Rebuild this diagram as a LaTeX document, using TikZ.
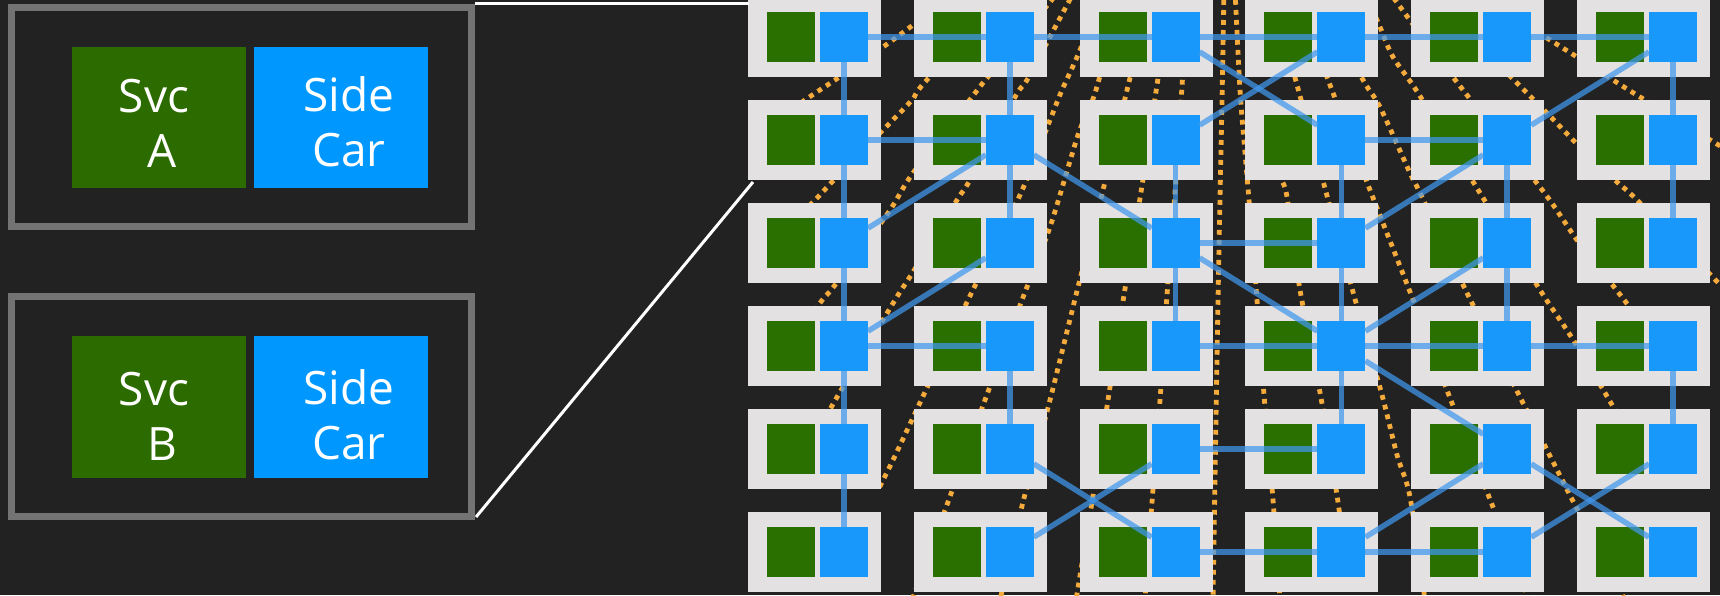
\documentclass[tikz,border=0pt]{standalone}
\usepackage{fontspec}
\setmainfont{Open Sans}
\definecolor{bg}{HTML}{222222}
\definecolor{framegray}{HTML}{737373}
\definecolor{leftgreen}{HTML}{2C6B00}
\definecolor{leftblue}{HTML}{0098FF}
\definecolor{podgray}{HTML}{E3E1E1}
\definecolor{gridgreen}{HTML}{2A7000}
\definecolor{gridblue}{HTML}{1898FA}
\definecolor{meshblue}{HTML}{4098EE}
\definecolor{traceorange}{HTML}{F5AA3C}
\begin{document}
\begin{tikzpicture}[x=1pt,y=-1pt,
  pod/.style={fill=podgray, inner sep=0, outer sep=0, minimum width=133pt, minimum height=80pt},
  svc/.style={fill=gridgreen, inner sep=0, outer sep=0, minimum width=48pt, minimum height=50pt},
  car/.style={fill=gridblue, inner sep=0, outer sep=0, minimum width=48pt, minimum height=50pt},
  mesh/.style={draw=meshblue, line width=5.5pt, opacity=0.72},
  trace/.style={draw=traceorange, line width=4.8pt, dash pattern=on 4.8pt off 5.2pt},
  frame/.style={draw=framegray, line width=7pt, inner sep=0, outer sep=0, minimum width=460pt},
  bigsvc/.style={fill=leftgreen, inner sep=0, outer sep=0, minimum width=174pt, minimum height=141pt},
  bigcar/.style={fill=leftblue, inner sep=0, outer sep=0, minimum width=174pt, minimum height=141pt},
  lbl/.style={text=white, align=center, inner sep=0, font=\fontsize{46pt}{55pt}\selectfont},
  zoomline/.style={draw=white, line width=3pt}]
\useasboundingbox (0,0) rectangle (1720,595);
\fill[bg] (0,0) rectangle (1720,595);

% orange traces (under the pods)
\begin{scope}
\clip (748,0) rectangle (1720,595);
\draw[trace] plot[smooth] coordinates {(1224,-10) (1222,100) (1218,300) (1213,600)};
\draw[trace] plot[smooth] coordinates {(1235,-10) (1240,90) (1245,153) (1249,200) (1257,300) (1264,395) (1273,500) (1280,600)};
\draw[trace] plot[smooth] coordinates {(1188,-10) (1182,86) (1175,192) (1167,295) (1160,400) (1152,502) (1145,600)};
\draw[trace] plot[smooth] coordinates {(1172,-10) (1157,85) (1141,192) (1124,295) (1108,400) (1092,502) (1076,600)};
\draw[trace] plot[smooth] coordinates {(1152,-10) (1128,86) (1103,190) (1078,287) (1050,400) (1023,502) (1000,600)};
\draw[trace] plot[smooth] coordinates {(1122,-10) (1096,90) (1078,135) (1050,227) (1022,300) (985,400) (948,502) (912,600)};
\draw[trace] plot[smooth] coordinates {(1102,-10) (1080,50) (1062,90) (1050,120) (1020,195) (968,300) (925,392) (893,460) (878,490)};
\draw[trace] plot[smooth] coordinates {(1075,-10) (1052,33) (1027,80) (1015,97) (970,180) (957,200) (913,272) (895,300) (840,392) (810,445) (790,480)};
\draw[trace] plot[smooth] coordinates {(1060,-10) (987,78) (972,97) (913,173) (888,213) (835,285) (820,303) (770,370)};
\draw[trace] plot[smooth] coordinates {(1010,-10) (925,82) (912,100) (883,130) (832,182) (815,200) (760,255)};
\draw[trace] plot[smooth] coordinates {(960,-10) (913,25) (883,47) (835,80) (805,100) (752,138)};
\draw[trace] plot[smooth] coordinates {(1265,115) (1280,175) (1287,197) (1300,290) (1321,398) (1338,502) (1350,600)};
\draw[trace] plot[smooth] coordinates {(1271,-10) (1297,85) (1326,192) (1353,292) (1382,395) (1397,455) (1410,497) (1425,600)};
\draw[trace] plot[smooth] coordinates {(1294,-10) (1330,85) (1370,190) (1412,297) (1450,398) (1491,502) (1529,600)};
\draw[trace] plot[smooth] coordinates {(1313,-10) (1363,80) (1380,107) (1410,173) (1421,195) (1467,293) (1521,399) (1548,452) (1575,505) (1625,600)};
\draw[trace] plot[smooth] coordinates {(1364,-10) (1380,27) (1393,57) (1418,93) (1480,193) (1540,290) (1572,338) (1608,398) (1650,470)};
\draw[trace] plot[smooth] coordinates {(1388,-10) (1412,23) (1463,90) (1543,191) (1577,240) (1618,292) (1670,360)};
\draw[trace] plot[smooth] coordinates {(1424,-10) (1517,83) (1547,113) (1580,147) (1617,182) (1640,203) (1740,305)};
\draw[trace] plot[smooth] coordinates {(1470,-10) (1550,40) (1577,57) (1613,80) (1640,97) (1730,152)};
\end{scope}

% pods
\foreach \c in {1,...,6}{
  \foreach \r in {1,...,6}{
    \pgfmathsetmacro\L{748+165.8*(\c-1)}
    \pgfmathsetmacro\T{-3+103*(\r-1)}
    \node[pod] (p-\c-\r) at (\L+66.5,\T+40) {};
    \node[svc] (g-\c-\r) at (\L+43,\T+40) {};
    \node[car] (s-\c-\r) at (\L+96,\T+40) {};
  }
}

% mesh connections between sidecars
\foreach \a/\b in {1-1/2-1, 2-1/3-1, 3-1/4-1, 4-1/5-1, 5-1/6-1,
  1-1/1-2, 1-2/1-3, 1-3/1-4, 1-4/1-5, 1-5/1-6,
  1-2/2-2, 2-1/2-2, 2-2/2-3, 2-2/1-3,
  2-2/3-3, 3-3/4-4, 4-4/5-5, 5-5/6-6,
  3-1/4-2, 3-2/4-1, 3-2/3-3, 3-3/3-4, 3-3/4-3,
  4-2/5-2, 4-2/4-3, 4-3/5-2, 5-2/6-1, 5-2/5-3,
  6-1/6-2, 6-2/6-3, 5-3/5-4, 4-4/5-3, 4-3/4-4,
  1-4/2-3, 1-4/2-4, 2-4/2-5,
  3-4/4-4, 4-4/5-4, 5-4/6-4, 4-4/4-5, 6-4/6-5,
  2-5/3-6, 2-6/3-5, 3-5/4-5,
  3-6/4-6, 4-6/5-6, 4-6/5-5, 5-6/6-5}
  {\draw[mesh] (s-\a) -- (s-\b);}

% detail boxes on the left
\node[frame, minimum height=219pt] (fA) at (241.5,117) {};
\node[frame, minimum height=220pt] (fB) at (241.5,406.5) {};
\node[bigsvc] (gA) at (159,117.5) {};
\node[bigcar] (bA) at (341,117.5) {};
\node[bigsvc, minimum height=142pt] (gB) at (159,407) {};
\node[bigcar, minimum height=142pt] (bB) at (341,407) {};
\node[lbl] (tA) at (162,123) {Svc\kern16pt\\A};
\node[lbl] (cA) at (349,122) {Side\\Car};
\node[lbl] (tB) at (162,416) {Svc\kern16pt\\B};
\node[lbl] (cB) at (349,415) {Side\\Car};

% zoom lines
\coordinate (za) at (475,3);
\coordinate (zb) at (749,3);
\coordinate (zc) at (476,517);
\coordinate (zd) at (753,182);
\draw[zoomline] (za) -- (zb);
\draw[zoomline] (zc) -- (zd);
\end{tikzpicture}
\end{document}
